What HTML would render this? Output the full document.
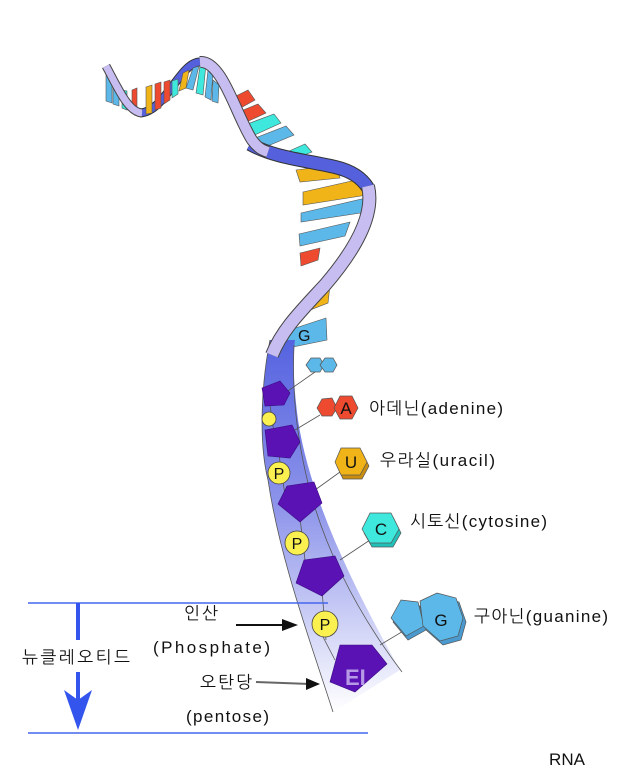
<!DOCTYPE html>
<html><head><meta charset="utf-8"><style>
html,body{margin:0;padding:0;background:#fff;}
svg{display:block;}
text{font-family:"Liberation Sans","NanumGothic","Noto Sans CJK KR",sans-serif;}
</style></head><body>
<svg width="620" height="774" viewBox="0 0 620 774" xmlns="http://www.w3.org/2000/svg">
<defs>
<linearGradient id="band" x1="0" y1="0" x2="0" y2="1">
<stop offset="0" stop-color="#5563e0"/>
<stop offset="0.45" stop-color="#8e95ea"/>
<stop offset="1" stop-color="#ffffff"/>
</linearGradient>
</defs>
<!-- back blue strands -->
<path d="M140,113 C165,112 180,62 200,62" fill="none" stroke="#333" stroke-width="9"/>
<path d="M140,113 C165,112 180,62 200,62" fill="none" stroke="#5560dc" stroke-width="7"/>
<g stroke="#555" stroke-width="0.6">
<polygon points="106,75 112,77 112,103 106,101" fill="#5cb8e8"/>
<polygon points="113,85 119,88 119,106 113,104" fill="#5cb8e8"/>
<polygon points="122,90 127,91 127,110 122,108" fill="#3ee8dc"/>
<polygon points="132,90 137,88 137,112 132,112" fill="#ee4a30"/>
<polygon points="146,87 152,85 152,113 146,114" fill="#f0b418"/>
<polygon points="155,84 161,82 161,108 155,110" fill="#ee4a30"/>
<polygon points="164,82 170,80 170,100 164,104" fill="#ee4a30"/>
<polygon points="172,81 178,79 178,94 172,98" fill="#3ee8dc"/>
<polygon points="183,73 189,70 186,88 179,91" fill="#f0b418"/>
<polygon points="193,68 199,66 193,90 186,88" fill="#5cb8e8"/>
<polygon points="200,66 206,64 203,95 196,93" fill="#3ee8dc"/>
<polygon points="208,70 213,72 211,100 205,97" fill="#5cb8e8"/>
<polygon points="213,80 219,85 218,103 212,101" fill="#5cb8e8"/>
<polygon points="232,98 248,90 255,100 237,110" fill="#ee4a30"/>
<polygon points="236,113 258,104 266,113 242,124" fill="#ee4a30"/>
<polygon points="242,126 274,114 281,123 248,138" fill="#3ee8dc"/>
<polygon points="250,140 286,126 294,135 258,150" fill="#5cb8e8"/>
<polygon points="278,156 305,144 312,152 285,162" fill="#3ee8dc"/>
<polygon points="296,170 336,165 340,178 300,182" fill="#f0b418"/>
<polygon points="303,192 365,178 367,195 303,205" fill="#f0b418"/>
<polygon points="301,213 366,198 367,212 301,222" fill="#5cb8e8"/>
<polygon points="299,234 350,222 345,236 300,246" fill="#5cb8e8"/>
<polygon points="300,253 320,248 318,260 301,266" fill="#ee4a30"/>
<polygon points="305,300 330,285 328,303 305,312" fill="#f0b418"/>
<polygon points="277,334 326,318 327,340 278,350" fill="#5cb8e8"/>
</g>
<text x="298" y="341" font-size="16" fill="#111">G</text>
<path d="M250,144 C275,158 305,160 335,167 C352,171 362,178 368,188" fill="none" stroke="#333" stroke-width="14"/>
<path d="M250,144 C275,158 305,160 335,167 C352,171 362,178 368,188" fill="none" stroke="#5560dc" stroke-width="12"/>
<!-- front lavender strands -->
<path d="M106,66 C118,88 128,112 142,113" fill="none" stroke="#444" stroke-width="9"/>
<path d="M106,66 C118,88 128,112 142,113" fill="none" stroke="#c8bdf0" stroke-width="7"/>
<path d="M200,62 C222,60 236,115 252,140 C258,148 262,150 268,152" fill="none" stroke="#444" stroke-width="12"/>
<path d="M200,62 C222,60 236,115 252,140 C258,148 262,150 268,152" fill="none" stroke="#c8bdf0" stroke-width="10"/>
<!-- lower band -->
<path d="M270,340 C262,380 258,440 268,480 C280,560 310,640 333,712 L400,670 C355,590 310,500 298,420 C294,390 292,360 295,340 Z" fill="url(#band)"/>
<path d="M270,340 C262,380 258,440 268,480 C280,560 310,640 333,712" fill="none" stroke="#555" stroke-width="0.8"/>
<path d="M294,345 C292,390 296,430 305,470 C320,540 355,610 402,672" fill="none" stroke="#555" stroke-width="0.8"/>
<path d="M368,186 C375,215 355,250 325,285 C300,312 282,330 272,355" fill="none" stroke="#444" stroke-width="14"/>
<path d="M368,186 C375,215 355,250 325,285 C300,312 282,330 272,355" fill="none" stroke="#c8bdf0" stroke-width="12"/>
<!-- connectors -->
<g stroke="#555" stroke-width="0.8">
<line x1="285" y1="393" x2="315" y2="372"/>
<line x1="295" y1="430" x2="320" y2="415"/>
<line x1="315" y1="490" x2="340" y2="472"/>
<line x1="340" y1="560" x2="370" y2="540"/>
<line x1="380" y1="645" x2="405" y2="630"/>
<line x1="270" y1="405" x2="275" y2="440"/>
<line x1="279" y1="455" x2="285" y2="495"/>
<line x1="300" y1="518" x2="305" y2="560"/>
<line x1="322" y1="590" x2="326" y2="640"/>
<line x1="322" y1="635" x2="335" y2="660"/>
</g>
<g fill="#5a12b4" stroke="#3a0a80" stroke-width="0.6">
<polygon points="262,388 280,381 290,393 284,405 265,406"/>
<polygon points="265,430 292,425 300,442 290,458 268,456"/>
<polygon points="278,504 287,486 314,482 322,503 300,522"/>
<polygon points="296,583 304,560 335,556 344,576 322,596"/>
<polygon points="330,682 340,645 372,645 387,664 355,692"/>
</g>
<text x="345" y="685" font-size="22" font-weight="bold" fill="#b79ae6">EI</text>
<g fill="#faf050" stroke="#444" stroke-width="0.8">
<circle cx="269" cy="419" r="7"/>
<circle cx="279" cy="473" r="11"/>
<circle cx="297" cy="543" r="12"/>
<circle cx="325" cy="624" r="13"/>
</g>
<g font-size="16" fill="#111" text-anchor="middle">
<text x="279" y="479">P</text>
<text x="297" y="549">P</text>
<text x="325" y="630">P</text>
</g>
<g stroke="#555" stroke-width="0.7">
<polygon points="306,365 311,358 320,358 324,365 320,372 311,372" fill="#5cb8e8"/>
<polygon points="320,365 325,358 333,358 337,365 333,372 325,372" fill="#5cb8e8"/>
<polygon points="317,408 322,399 332,398 337,408 332,416 322,416" fill="#ee4a30"/>
<polygon points="334,408 340,396 352,396 358,408 352,419 340,419" fill="#ee4a30"/>
<polygon points="337,466 343,452 362,452 369,466 362,479 343,479" fill="#c98e10"/>
<polygon points="335,462 341,448 360,448 367,462 360,475 341,475" fill="#f0b418"/>
<polygon points="364,533 372,517 393,517 401,533 393,547 372,547" fill="#20c0b8"/>
<polygon points="362,529 370,513 391,513 399,529 391,543 370,543" fill="#3ee8dc"/>
<polygon points="393,622 403,604 420,606 426,630 408,640" fill="#4a9ad0"/>
<polygon points="391,618 401,600 418,602 424,626 406,636" fill="#5cb8e8"/>
<polygon points="423,605 440,597 459,602 466,622 461,640 443,645 426,630" fill="#4a9ad0"/>
<polygon points="420,601 437,593 456,598 463,618 458,636 440,641 423,626" fill="#5cb8e8"/>
</g>
<g font-size="17" fill="#111" text-anchor="middle">
<text x="346" y="414">A</text>
<text x="351" y="468">U</text>
<text x="381" y="535">C</text>
<text x="441" y="626">G</text>
</g>
<g font-size="17" fill="#111">
<text x="369" y="414" textLength="134">아데닌(adenine)</text>
<text x="380" y="466" textLength="115">우라실(uracil)</text>
<text x="410" y="527" textLength="137">시토신(cytosine)</text>
<text x="474" y="622" textLength="134">구아닌(guanine)</text>
<text x="184" y="619" textLength="34">인산</text>
<text x="153" y="653" textLength="117">(Phosphate)</text>
<text x="200" y="688" textLength="52">오탄당</text>
<text x="186" y="722" textLength="83">(pentose)</text>
<text x="22" y="663" textLength="108">뉴클레오티드</text>
<text x="549" y="765" textLength="36">RNA</text>
</g>
<line x1="28" y1="603" x2="328" y2="603" stroke="#4466ee" stroke-width="1.5"/>
<line x1="28" y1="733" x2="368" y2="733" stroke="#4466ee" stroke-width="1.5"/>
<line x1="78" y1="603" x2="78" y2="640" stroke="#3355ee" stroke-width="4"/>
<line x1="78" y1="672" x2="78" y2="705" stroke="#3355ee" stroke-width="4"/>
<polygon points="64,690 78,700 92,690 78,730" fill="#3355ee"/>
<line x1="236" y1="625" x2="285" y2="625" stroke="#111" stroke-width="2"/>
<polygon points="282,619 298,625 282,631" fill="#111"/>
<line x1="256" y1="682" x2="310" y2="684" stroke="#666" stroke-width="2"/>
<polygon points="306,678 320,684 306,690" fill="#111"/>
</svg>
</body></html>
